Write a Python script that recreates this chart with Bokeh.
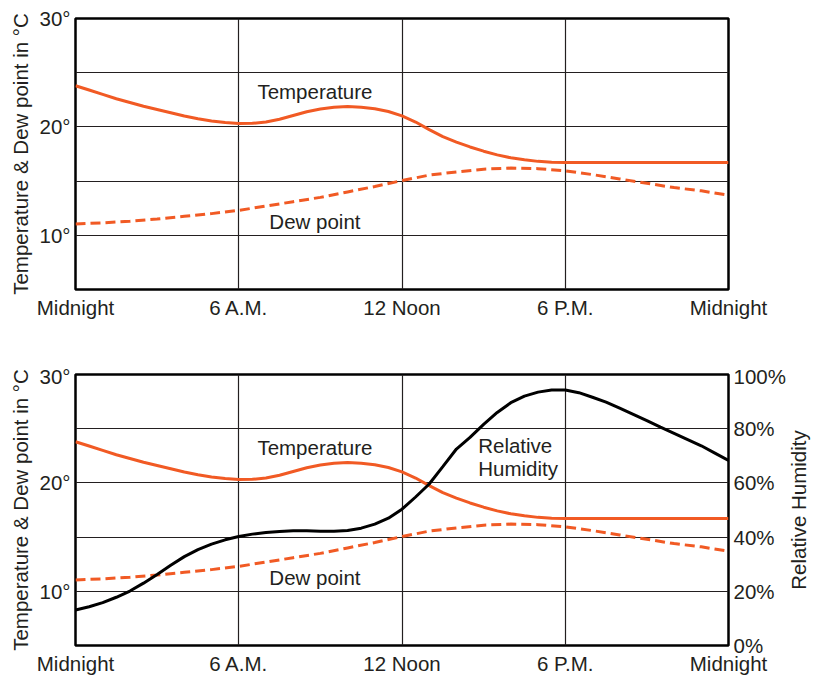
import math
from bokeh.plotting import figure
from bokeh.layouts import column, row
from bokeh.models import Range1d, LinearAxis, FixedTicker, GlobalInlineStyleSheet
from bokeh.core.properties import value
from bokeh.embed import file_html
from bokeh.resources import INLINE

# ---- data ----
hours_half = [h / 2 for h in range(49)]
temperature = [23.8, 23.4, 23.0, 22.6, 22.25, 21.9, 21.6, 21.3, 21.0, 20.75, 20.55, 20.4,
               20.32, 20.33, 20.45, 20.7, 21.05, 21.4, 21.65, 21.82, 21.88, 21.82, 21.68, 21.42,
               21.02, 20.45, 19.75, 19.1, 18.6, 18.15, 17.76, 17.42, 17.15, 16.96, 16.82, 16.75,
               16.72, 16.72, 16.72, 16.72, 16.72, 16.72, 16.72, 16.72, 16.72, 16.72, 16.72, 16.72,
               16.72]
relative_humidity = [13.1, 14.3, 15.8, 17.8, 20.1, 23.0, 26.2, 29.6, 32.8, 35.4, 37.4, 39.0,
                     40.2, 41.1, 41.7, 42.1, 42.3, 42.3, 42.2, 42.2, 42.4, 43.3, 44.8, 47.0,
                     50.3, 54.8, 59.6, 66.0, 72.5, 76.8, 81.6, 86.0, 89.6, 92.0, 93.5, 94.3,
                     94.3, 93.3, 91.6, 89.8, 87.6, 85.3, 83.0, 80.6, 78.3, 76.0, 73.7, 71.0,
                     68.3]
hours = list(range(25))
dew_point = [11.05, 11.15, 11.3, 11.5, 11.75, 12.0, 12.3, 12.7, 13.1, 13.5, 14.0, 14.5, 15.05,
             15.55, 15.85, 16.1, 16.2, 16.15, 15.95, 15.6, 15.2, 14.8, 14.4, 14.1, 13.7]

x_ticks = [0, 6, 12, 18, 24]
x_tick_labels = ["Midnight", "6 A.M.", "12 Noon", "6 P.M.", "Midnight"]
y_ticks = [10, 15, 20, 25, 30]
y_tick_labels = ["10°", "", "20°", "", "30°"]
rh_ticks = [0, 20, 40, 60, 80, 100]
rh_tick_labels = ["0%", "20%", "40%", "60%", "80%", "100%"]

# ---- style ----
ORANGE = "#f15a24"
INK = "#231f20"
FONT = "Liberation Sans"
FS = "20.5px"


def style_axis(ax):
    ax.axis_line_color = None
    ax.major_tick_line_color = None
    ax.minor_tick_line_color = None
    ax.major_tick_out = 0
    ax.major_tick_in = 0
    ax.minor_tick_out = 0
    ax.minor_tick_in = 0
    ax.major_label_text_font = FONT
    ax.major_label_text_font_size = FS
    ax.major_label_text_color = INK
    ax.axis_label_text_font = FONT
    ax.axis_label_text_font_size = FS
    ax.axis_label_text_font_style = "normal"
    ax.axis_label_text_color = INK


def make_fig(top_border, bottom_border, right_border):
    p = figure(frame_width=653, frame_height=271,
               x_range=Range1d(0, 24), y_range=Range1d(5, 30),
               output_backend="svg", toolbar_location=None,
               min_border_left=75, min_border_right=right_border,
               min_border_top=top_border, min_border_bottom=bottom_border)
    p.outline_line_color = "black"
    p.outline_line_width = 2.5
    p.outline_line_alpha = 1.0

    p.xaxis.ticker = FixedTicker(ticks=x_ticks)
    p.xaxis.major_label_overrides = dict(zip(x_ticks, x_tick_labels))
    p.xaxis.major_label_standoff = 6
    style_axis(p.xaxis[0])

    p.yaxis.ticker = FixedTicker(ticks=y_ticks)
    p.yaxis.major_label_overrides = dict(zip(y_ticks, y_tick_labels))
    p.yaxis.major_label_standoff = 5
    p.yaxis.axis_label = "Temperature & Dew point in °C"
    p.yaxis.axis_label_standoff = 4
    style_axis(p.yaxis[0])

    for g in (p.xgrid[0], p.ygrid[0]):
        g.grid_line_color = INK
        g.grid_line_width = 1.2

    p.line(hours_half, temperature, line_color=ORANGE, line_width=3)
    p.line(hours, dew_point, line_color=ORANGE, line_width=3, line_dash="10 5")

    p.text(x=[8.8], y=[23.3], text=["Temperature"], text_font=value(FONT),
           text_font_size=FS, text_color=INK, text_align="center", text_baseline="middle")
    p.text(x=[8.8], y=[11.25], text=["Dew point"], text_font=value(FONT),
           text_font_size=FS, text_color=INK, text_align="center", text_baseline="middle")
    return p


p1 = make_fig(18, 75, 80)
p2 = make_fig(10, 20, 60)

p2.extra_y_ranges = {"rh": Range1d(0, 100)}
rax = LinearAxis(y_range_name="rh", ticker=FixedTicker(ticks=rh_ticks))
rax.major_label_overrides = dict(zip(rh_ticks, rh_tick_labels))
rax.major_label_standoff = 5
style_axis(rax)
p2.add_layout(rax, "right")

p2.line(hours_half, relative_humidity, line_color="black", line_width=3, y_range_name="rh")
p2.text(x=[14.8], y=[73.8], text=["Relative"], text_font=value(FONT), text_font_size=FS,
        text_color=INK, text_align="left", text_baseline="middle", y_range_name="rh")
p2.text(x=[14.8], y=[65.2], text=["Humidity"], text_font=value(FONT), text_font_size=FS,
        text_color=INK, text_align="left", text_baseline="middle", y_range_name="rh")

# narrow strip holding the right-axis title (reads bottom-to-top)
p3 = figure(frame_width=30, frame_height=271, x_range=Range1d(0, 30), y_range=Range1d(0, 100),
            output_backend="svg", toolbar_location=None,
            min_border_left=0, min_border_right=0, min_border_top=10, min_border_bottom=0)
p3.axis.visible = False
p3.grid.visible = False
p3.outline_line_color = None
p3.text(x=[10], y=[50], text=["Relative Humidity"], angle=math.pi / 2,
        text_font=value(FONT), text_font_size=FS, text_color=INK,
        text_align="center", text_baseline="middle")

layout = column(p1, row(p2, p3, spacing=0), spacing=0)
layout.stylesheets = [GlobalInlineStyleSheet(css="html, body { overflow: hidden; }")]

open("out.html", "w").write(file_html(layout, INLINE))
